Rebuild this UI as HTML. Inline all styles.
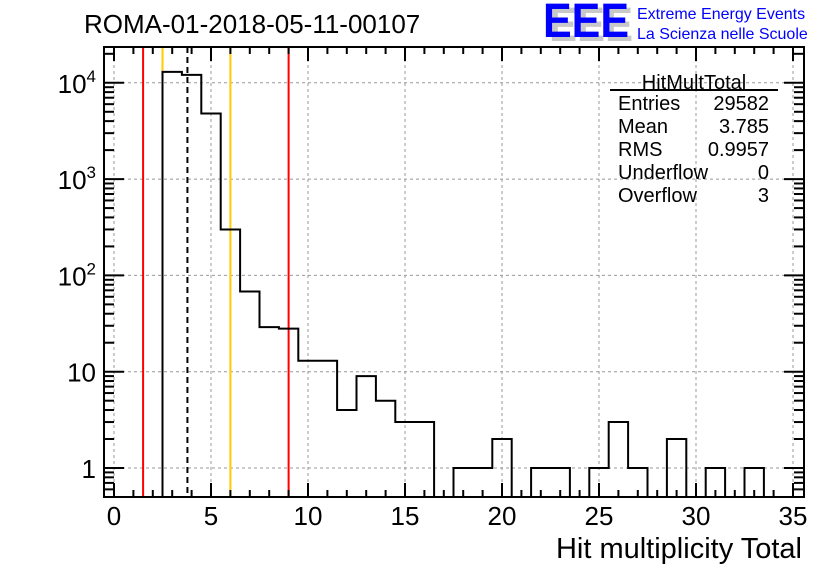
<!DOCTYPE html>
<html><head><meta charset="utf-8"><style>
body{margin:0;background:#fff}
svg{display:block;font-family:"Liberation Sans",Arial,sans-serif}
</style></head><body>
<svg id="c" width="836" height="572" viewBox="0 0 836 572">
<rect width="836" height="572" fill="#fff"/>
<g id="grid"></g>
<g id="bars"></g>
<g id="marks"></g>
<g id="axes"></g>
<text x="84" y="33" font-size="26">ROMA-01-2018-05-11-00107</text>
<g>
<text x="549" y="41" font-size="48" font-weight="bold" fill="#c8c8c8" textLength="84" lengthAdjust="spacingAndGlyphs">EEE</text>
<text x="543" y="37" font-size="48" font-weight="bold" fill="#0000ff" textLength="86" lengthAdjust="spacingAndGlyphs">EEE</text>
<text x="637" y="19" font-size="16" fill="#0000ff">Extreme Energy Events</text>
<text x="637" y="39" font-size="16" fill="#0000ff">La Scienza nelle Scuole</text>
</g>
<g font-size="20">
<text x="694" y="89" text-anchor="middle">HitMultTotal</text>
<line x1="610" y1="90" x2="778" y2="90" stroke="#000" stroke-width="2"/>
<text x="618" y="110">Entries</text><text x="769" y="110" text-anchor="end">29582</text>
<text x="618" y="133">Mean</text><text x="769" y="133" text-anchor="end">3.785</text>
<text x="618" y="156">RMS</text><text x="769" y="156" text-anchor="end">0.9957</text>
<text x="618" y="179">Underflow</text><text x="769" y="179" text-anchor="end">0</text>
<text x="618" y="202">Overflow</text><text x="769" y="202" text-anchor="end">3</text>
</g>
<text x="802" y="558" font-size="29" text-anchor="end">Hit multiplicity Total</text>
</svg>
<script>
const binCenters=[3,4,5,6,7,8,9,10,11,12,13,14,15,16,17,18,19,20,21,22,23,24,25,26,27,28,29,30,31,32,33,34];
const binCounts=[13000,12100,4800,300,68,29,28,13,13,4,9,5,3,3,0,1,1,2,0,1,1,0,1,3,1,0,2,0,1,0,1,0];
const xTicks=[0,5,10,15,20,25,30,35];
const yTickExps=[0,1,2,3,4];
const redLines=[1.5,9];
const orangeLines=[2.5,6];
const meanValue=3.785;

const L=104,R=804,T=47,B=497;
const X=v=>114+v*19.4;
const Y=v=>468-Math.log10(v)*96.3;
const NS="http://www.w3.org/2000/svg";
function mk(tag,attrs,parent){const e=document.createElementNS(NS,tag);for(const k in attrs)e.setAttribute(k,attrs[k]);parent.appendChild(e);return e;}
const grid=document.getElementById('grid'),bars=document.getElementById('bars'),marks=document.getElementById('marks'),axes=document.getElementById('axes');

xTicks.forEach(t=>{const l=mk('line',{x1:X(t),x2:X(t),y1:T,y2:B,stroke:'#999','stroke-dasharray':'3,3'},grid);

});
yTickExps.forEach(e=>{const l=mk('line',{x1:L,x2:R,y1:Y(Math.pow(10,e)),y2:Y(Math.pow(10,e)),stroke:'#999','stroke-dasharray':'3,3'},grid);

});

redLines.forEach(v=>{const l=mk('line',{x1:X(v),x2:X(v),y1:T,y2:B,stroke:'#ff0000','stroke-width':2},marks);

});
orangeLines.forEach(v=>{const l=mk('line',{x1:X(v),x2:X(v),y1:T,y2:B,stroke:'#ffcc00','stroke-width':2},marks);

});
const ml=mk('line',{x1:X(meanValue),x2:X(meanValue),y1:T,y2:B,stroke:'#000','stroke-width':2,'stroke-dasharray':'6,4'},marks);



let d='';
binCenters.forEach((c,i)=>{const x0=X(c-0.5),x1=X(c+0.5);const y=binCounts[i]>0?Y(binCounts[i]):B;
d+=(i===0?`M${x0},${B}`:'')+`L${x0},${y}L${x1},${y}`;});
d+=`L${X(binCenters[binCenters.length-1]+0.5)},${B}`;
const h=mk('path',{d:d,fill:'none',stroke:'#000','stroke-width':2},marks);



const fr=mk('rect',{x:L,y:T,width:R-L,height:B-T,fill:'none',stroke:'#000','stroke-width':2},axes);


for(let v=0;v<=35;v++){const len=v%5===0?14:7;
mk('line',{x1:X(v),x2:X(v),y1:B,y2:B-len,stroke:'#000','stroke-width':2},axes);
mk('line',{x1:X(v),x2:X(v),y1:T,y2:T+len,stroke:'#000','stroke-width':2},axes);}
for(let e=-1;e<=4;e++){for(let m=1;m<10;m++){const v=m*Math.pow(10,e);const y=Y(v);if(y<T||y>B)continue;const len=m===1?20:10;
mk('line',{x1:L,x2:L+len,y1:y,y2:y,stroke:'#000','stroke-width':2},axes);
mk('line',{x1:R,x2:R-len,y1:y,y2:y,stroke:'#000','stroke-width':2},axes);}}
xTicks.forEach(t=>{const tx=mk('text',{x:X(t),y:525,'font-size':26,'text-anchor':'middle'},axes);tx.textContent=t;

});
const yl=['1','10','10<tspan dy="-11" font-size="17">2</tspan>','10<tspan dy="-11" font-size="17">3</tspan>','10<tspan dy="-11" font-size="17">4</tspan>'];
yTickExps.forEach((e,i)=>{const tx=mk('text',{x:96,y:Y(Math.pow(10,e))+10,'font-size':26,'text-anchor':'end'},axes);
tx.innerHTML=yl[i];

});
</script>
</body></html>
